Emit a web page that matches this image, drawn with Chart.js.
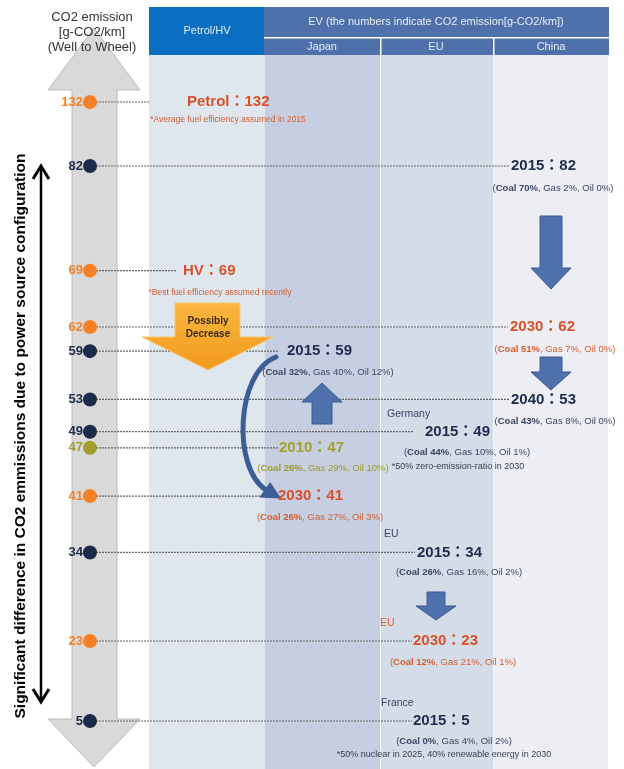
<!DOCTYPE html>
<html>
<head>
<meta charset="utf-8">
<script src="https://cdn.jsdelivr.net/npm/chart.js@4.4.1/dist/chart.umd.min.js"></script>
<style>
    html, body { margin: 0; padding: 0; background: #fff; }
    canvas { display: block; }
</style>
</head>
<body>
<canvas id="grafico" width="624" height="769"></canvas>
<script>
// dados
const valores = [132, 82, 69, 62, 59, 53, 49, 47, 41, 34, 23, 5];
const rotulos = ['Petrol', '2015', 'HV', '2030', '2015', '2040', '2015', '2010', '2030', '2015', '2030', '2015'];
const tipos = ['meta', 'atual', 'meta', 'meta', 'atual', 'atual', 'atual', 'passado', 'meta', 'atual', 'meta', 'atual'];
const regioes = ['', '', '', '', '', '', 'Germany', '', '', 'EU', 'EU', 'France'];
const carvao = [null, 70, null, 51, 32, 43, 44, 26, 26, 26, 12, 0];
const gas = [null, 2, null, 7, 40, 8, 10, 29, 27, 16, 21, 4];
const oleo = [null, 0, null, 0, 12, 0, 1, 10, 3, 2, 1, 2];
const notas = ['*Average fuel efficiency assumed in 2015', '', '*Best fuel efficiency assumed recently', '', '', '', '*50% zero-emission-ratio in 2030', '', '', '', '', '*50% nuclear in 2025, 40% renewable energy in 2030'];

const colunas = ['Petrol/HV', 'Japan', 'EU', 'China'];
const tituloEV = 'EV (the numbers indicate CO2 emission[g-CO2/km])';
const tituloEixo = ['CO2 emission', '[g-CO2/km]', '(Well to Wheel)'];
const textoLateral = 'Significant difference in CO2 emmissions due to power source configuration';

// escala com quebras: valor -> fração da altura
const ancoras = [[5, 721 / 769], [23, 641 / 769], [82, 166 / 769], [132, 102 / 769]];

class EscalaQuebrada extends Chart.LinearScale {
    getPixelForValue(value) {
        let i = 0;
        while (i < ancoras.length - 2 && value > ancoras[i + 1][0]) i++;
        const [v0, f0] = ancoras[i];
        const [v1, f1] = ancoras[i + 1];
        return this.top + (f0 + (value - v0) * (f1 - f0) / (v1 - v0)) * this.height;
    }
    getValueForPixel(pixel) {
        const f = (pixel - this.top) / this.height;
        let i = 0;
        while (i < ancoras.length - 2 && f < ancoras[i + 1][1]) i++;
        const [v0, f0] = ancoras[i];
        const [v1, f1] = ancoras[i + 1];
        return v0 + (f - f0) * (v1 - v0) / (f1 - f0);
    }
}
EscalaQuebrada.id = 'quebrada';
EscalaQuebrada.defaults = Chart.LinearScale.defaults;
Chart.register(EscalaQuebrada);

const EIXO_X = 90;
const cores = {
    meta: { ponto: '#f58025', texto: '#d6532b', sub: '#d65e30' },
    atual: { ponto: '#1d2b4b', texto: '#1e2d4d', sub: '#3a4763' },
    passado: { ponto: '#a09e2e', texto: '#a3a12c', sub: '#9c9a2a' }
};

// posições das anotações (layout)
const posicoes = [
    { fim: 150, x: 187, sub: 228, dy: 18 },
    { fim: 510, x: 511, sub: 553, dy: 22 },
    { fim: 177, x: 183, sub: 220, dy: 22 },
    { fim: 508, x: 510, sub: 555, dy: 22 },
    { fim: 278, x: 287, sub: 328, dy: 21 },
    { fim: 510, x: 511, sub: 555, dy: 22 },
    { fim: 413, x: 425, sub: 467, dy: 21, reg: 387, nota: 458 },
    { fim: 278, x: 279, sub: 323, dy: 21 },
    { fim: 268, x: 278, sub: 320, dy: 21 },
    { fim: 415, x: 417, sub: 459, dy: 20, reg: 384 },
    { fim: 412, x: 413, sub: 453, dy: 21, reg: 380 },
    { fim: 412, x: 413, sub: 454, dy: 20, reg: 381, nota: 444 }
];

const FONTE = '"Liberation Sans", Arial, sans-serif';
const FONTE_CJK = '"Liberation Sans", "Noto Sans CJK JP", sans-serif';

function escreve(ctx, str, x, y, font, cor, align) {
    ctx.font = font;
    ctx.fillStyle = cor;
    ctx.textAlign = align || 'left';
    ctx.textBaseline = 'middle';
    ctx.fillText(str, x, y);
}

function linhaMix(ctx, i, cx, y, cor) {
    const a = '(';
    const b = `Coal ${carvao[i]}%`;
    const c = `, Gas ${gas[i]}%, Oil ${oleo[i]}%)`;
    const normal = '9.5px ' + FONTE;
    const negrito = 'bold 9.5px ' + FONTE;
    ctx.font = normal;
    const wa = ctx.measureText(a).width;
    const wc = ctx.measureText(c).width;
    ctx.font = negrito;
    const wb = ctx.measureText(b).width;
    let x = cx - (wa + wb + wc) / 2;
    escreve(ctx, a, x, y, normal, cor);
    escreve(ctx, b, x + wa, y, negrito, cor);
    escreve(ctx, c, x + wa + wb, y, normal, cor);
}

function seta(ctx, pts, preench, borda) {
    ctx.beginPath();
    ctx.moveTo(pts[0][0], pts[0][1]);
    for (let k = 1; k < pts.length; k++) ctx.lineTo(pts[k][0], pts[k][1]);
    ctx.closePath();
    ctx.fillStyle = preench;
    ctx.fill();
    ctx.strokeStyle = borda;
    ctx.lineWidth = 1;
    ctx.stroke();
}

function setaAzulBaixo(ctx, cx, topo, base, ponta, meia, meiaCabeca) {
    seta(ctx, [[cx - meia, topo], [cx + meia, topo], [cx + meia, base], [cx + meiaCabeca, base],
        [cx, ponta], [cx - meiaCabeca, base], [cx - meia, base]], '#4e71ad', '#3c5b91');
}

const infografico = {
    id: 'infografico',
    beforeDatasetsDraw(chart) {
        const ctx = chart.ctx;
        const X = v => chart.scales.x.getPixelForValue(v);
        const Y = v => chart.scales.y.getPixelForValue(v);
        ctx.save();

        // faixas das colunas
        const faixas = [[149, 265, '#dfe6ee'], [265, 380, '#c6cee1'], [380, 493, '#d3dce7'], [493, 608, '#eceef3']];
        faixas.forEach(([a, b, c]) => { ctx.fillStyle = c; ctx.fillRect(X(a), 55, X(b) - X(a), 714); });
        ctx.fillStyle = '#f4f6f9';
        ctx.fillRect(X(380), 55, 1, 714);
        ctx.fillRect(X(493), 55, 1, 714);

        // cabeçalho
        ctx.fillStyle = '#0a6fc0';
        ctx.fillRect(X(149), 7, X(264) - X(149), 48);
        ctx.fillStyle = '#4e70ab';
        ctx.fillRect(X(264), 7, X(609) - X(264), 48);
        ctx.fillStyle = '#ffffff';
        ctx.fillRect(X(264), 37, X(609) - X(264), 1.5);
        ctx.fillRect(X(380), 38, 1.5, 17);
        ctx.fillRect(X(493), 38, 1.5, 17);
        escreve(ctx, colunas[0], X(207), 31, '11px ' + FONTE, '#dfe9f6', 'center');
        escreve(ctx, tituloEV, X(436), 22, '11px ' + FONTE, '#e6edf7', 'center');
        escreve(ctx, colunas[1], X(322), 47, '11px ' + FONTE, '#e6edf7', 'center');
        escreve(ctx, colunas[2], X(436), 47, '11px ' + FONTE, '#e6edf7', 'center');
        escreve(ctx, colunas[3], X(551), 47, '11px ' + FONTE, '#e6edf7', 'center');

        // seta cinza dupla
        seta(ctx, [[X(94), 28], [X(140), 90], [X(117), 90], [X(117), 719], [X(140), 719], [X(94), 767],
            [X(48), 719], [X(72), 719], [X(72), 90], [X(48), 90]], '#d9d9d9', '#b9b9b9');

        tituloEixo.forEach((t, k) => escreve(ctx, t, X(92), 17 + k * 15, '13px ' + FONTE, '#333333', 'center'));

        // seta preta vertical
        ctx.strokeStyle = '#000';
        ctx.lineWidth = 2.5;
        ctx.beginPath();
        ctx.moveTo(X(41), 167);
        ctx.lineTo(X(41), 700);
        ctx.stroke();
        ctx.lineWidth = 3;
        ctx.beginPath();
        ctx.moveTo(X(33), 179); ctx.lineTo(X(41), 166); ctx.lineTo(X(49), 179);
        ctx.moveTo(X(33), 689); ctx.lineTo(X(41), 702); ctx.lineTo(X(49), 689);
        ctx.stroke();

        ctx.save();
        ctx.translate(X(21), 436);
        ctx.rotate(-Math.PI / 2);
        escreve(ctx, textoLateral, 0, 0, 'bold 15.5px ' + FONTE, '#000', 'center');
        ctx.restore();

        // linhas pontilhadas
        ctx.strokeStyle = '#666';
        ctx.lineWidth = 1.2;
        ctx.setLineDash([2, 1]);
        valores.forEach((v, i) => {
            ctx.beginPath();
            ctx.moveTo(X(EIXO_X + 6), Y(v));
            ctx.lineTo(X(posicoes[i].fim), Y(v));
            ctx.stroke();
        });
        ctx.setLineDash([]);
        ctx.restore();
    },
    afterDatasetsDraw(chart) {
        const ctx = chart.ctx;
        const X = v => chart.scales.x.getPixelForValue(v);
        const Y = v => chart.scales.y.getPixelForValue(v);
        ctx.save();

        // números do eixo
        valores.forEach((v, i) => {
            escreve(ctx, String(v), X(EIXO_X - 7), Y(v), 'bold 13px ' + FONTE, cores[tipos[i]].ponto, 'right');
        });

        // seta laranja
        const grad = ctx.createLinearGradient(0, 303, 0, 370);
        grad.addColorStop(0, '#f9b640');
        grad.addColorStop(1, '#f29a1c');
        seta(ctx, [[X(175), 303], [X(240), 303], [X(240), 337], [X(273), 337], [X(208), 370],
            [X(142), 337], [X(175), 337]], grad, '#f8c878');
        escreve(ctx, 'Possibly', X(208), 321, 'bold 10px ' + FONTE, '#3b2c14', 'center');
        escreve(ctx, 'Decrease', X(208), 334, 'bold 10px ' + FONTE, '#3b2c14', 'center');

        // setas azuis
        setaAzulBaixo(ctx, X(551), 216, 268, 289, 11, 20);
        setaAzulBaixo(ctx, X(551), 357, 372, 390, 11, 20);
        setaAzulBaixo(ctx, X(436), 592, 606, 620, 9, 20);
        seta(ctx, [[X(312), 424], [X(332), 424], [X(332), 402], [X(342), 402], [X(322), 383],
            [X(302), 402], [X(312), 402]], '#4e71ad', '#3c5b91');

        // seta curva
        ctx.strokeStyle = '#3b5d95';
        ctx.lineWidth = 5;
        ctx.lineCap = 'round';
        ctx.beginPath();
        ctx.moveTo(X(276), 357);
        ctx.bezierCurveTo(X(236), 372, X(232), 468, X(266), 490);
        ctx.stroke();
        seta(ctx, [[X(280), 498], [X(260), 497], [X(270), 483]], '#3b5d95', '#3b5d95');

        // rótulos
        valores.forEach((v, i) => {
            const p = posicoes[i];
            const c = cores[tipos[i]];
            const y = Y(v);
            escreve(ctx, `${rotulos[i]}：${v}`, X(p.x), y, 'bold 15px ' + FONTE_CJK, c.texto);
            if (carvao[i] !== null) linhaMix(ctx, i, X(p.sub), y + p.dy, c.sub);
            if (regioes[i]) escreve(ctx, regioes[i], X(p.reg), y - 18, '10.5px ' + FONTE, c.sub);
            if (notas[i]) {
                if (carvao[i] === null) {
                    escreve(ctx, notas[i], X(p.sub), y + p.dy, '8.5px ' + FONTE, c.sub, 'center');
                } else {
                    escreve(ctx, notas[i], X(p.nota), y + p.dy + 14, '9px ' + FONTE, '#3a4152', 'center');
                }
            }
        });
        ctx.restore();
    }
};

const ctx = document.getElementById('grafico').getContext('2d');
const grafico = new Chart(ctx, {
    type: 'scatter',
    data: {
        datasets: [{
            data: valores.map(v => ({ x: EIXO_X, y: v })),
            pointRadius: 7,
            pointBorderWidth: 0,
            pointBackgroundColor: tipos.map(t => cores[t].ponto),
            pointBorderColor: tipos.map(t => cores[t].ponto)
        }]
    },
    options: {
        responsive: false,
        devicePixelRatio: 1,
        animation: false,
        layout: { padding: 0, autoPadding: false },
        plugins: { legend: { display: false }, tooltip: { enabled: false } },
        scales: {
            x: { type: 'linear', min: 0, max: 624, display: false },
            y: { type: 'quebrada', min: 0, max: 140, display: false }
        }
    },
    plugins: [infografico]
});
</script>
</body>
</html>
